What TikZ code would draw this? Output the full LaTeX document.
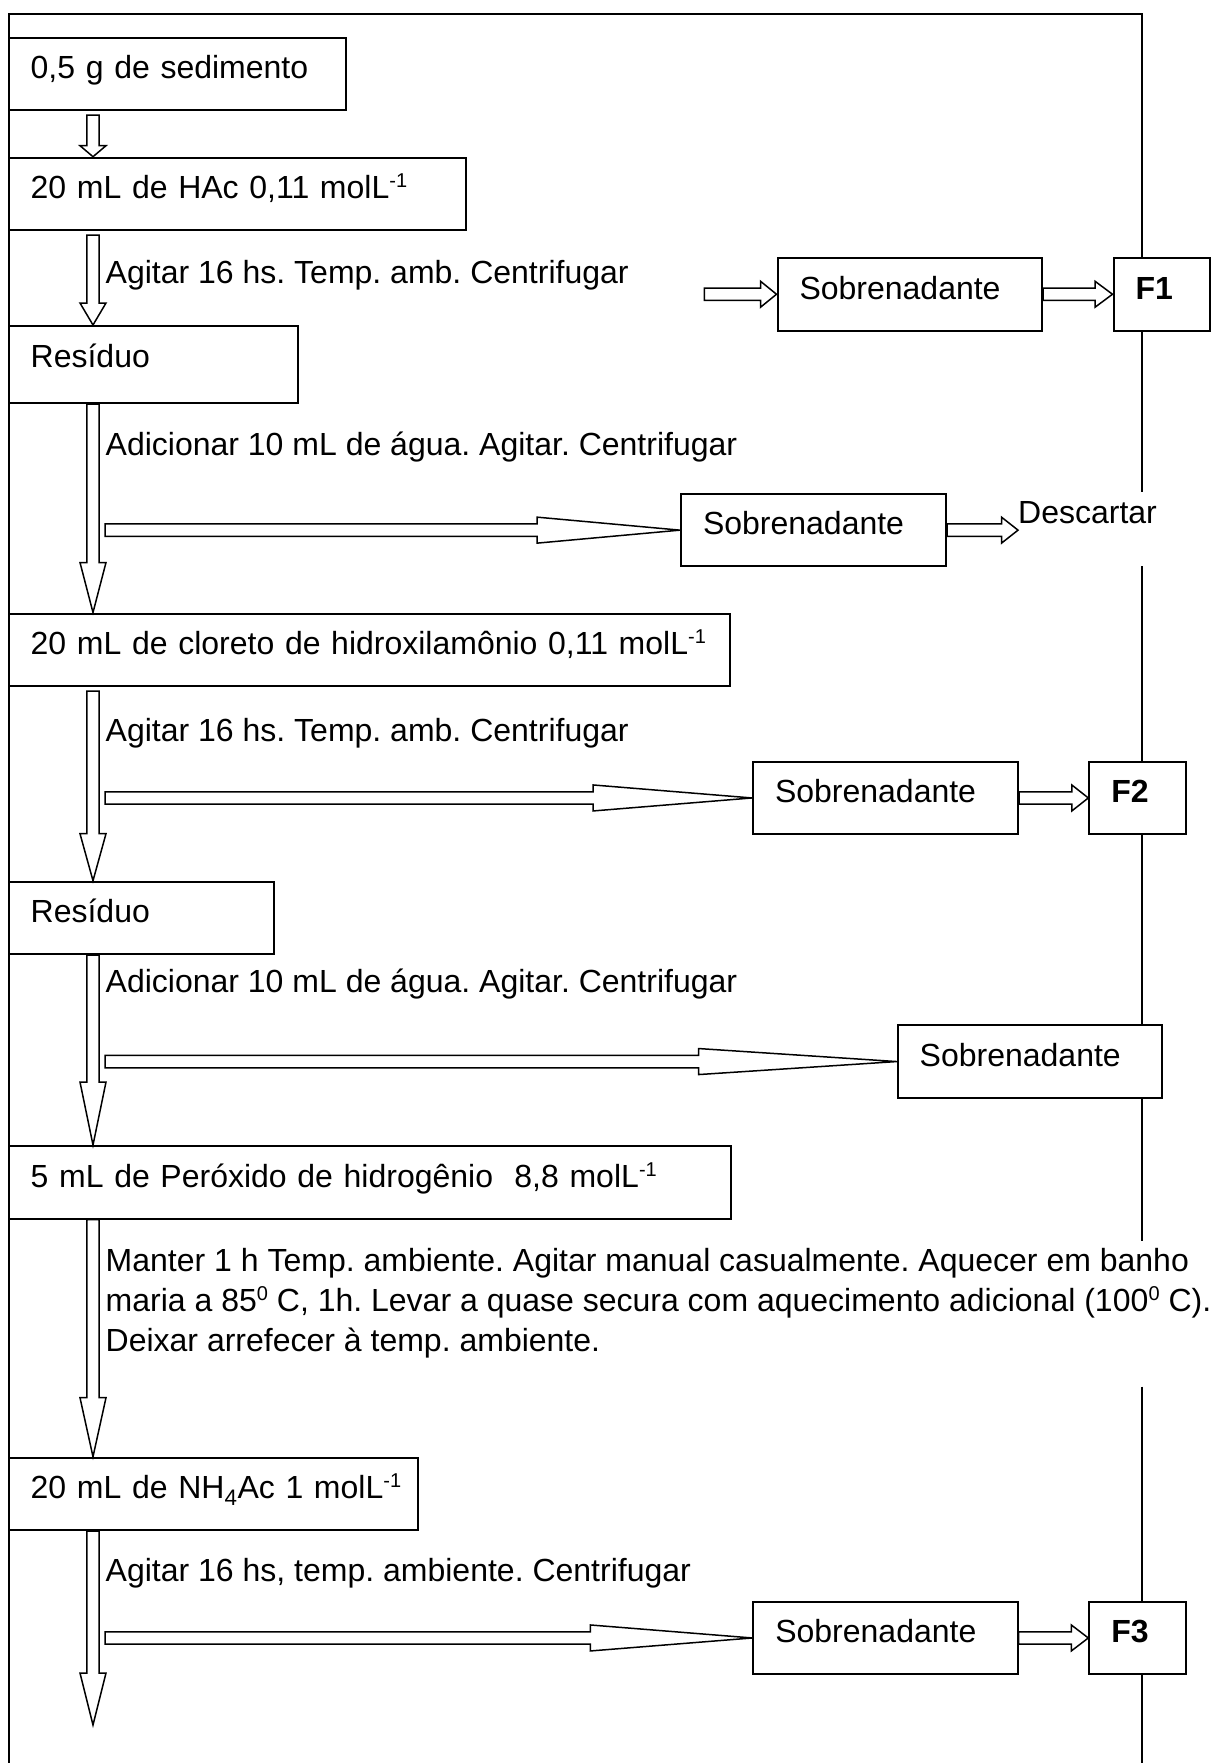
\documentclass[tikz,border=0pt]{standalone}
\usepackage{fontspec}
\setmainfont{Liberation Sans}
\usetikzlibrary{calc}
\newcommand\mysup[1]{\raisebox{11pt}{\fontsize{20}{20}\selectfont #1}}
\newcommand\vblockarrow[3]{\draw[blk] let \p1=#1, \p2=#2 in
  ({\x1-6.2pt},\y1) -- ({\x1-6.2pt},{\y2+#3pt}) -- ({\x1-13pt},{\y2+#3pt}) -- (\x1,\y2)
  -- ({\x1+13pt},{\y2+#3pt}) -- ({\x1+6.2pt},{\y2+#3pt}) -- ({\x1+6.2pt},\y1) -- cycle;}
\newcommand\hblockarrow[3]{\draw[blk] let \p1=#1, \p2=#2 in
  (\x1,{\y2+6.2pt}) -- ({\x2-#3pt},{\y2+6.2pt}) -- ({\x2-#3pt},{\y2+13pt}) -- (\x2,\y2)
  -- ({\x2-#3pt},{\y2-13pt}) -- ({\x2-#3pt},{\y2-6.2pt}) -- (\x1,{\y2-6.2pt}) -- cycle;}
\frenchspacing
\begin{document}
\begin{tikzpicture}[x=1pt,y=-1pt,
  every node/.style={font=\fontsize{32}{40}\selectfont\frenchspacing},
  bx/.style={draw, line width=2pt, fill=white, anchor=north west, inner xsep=22pt, inner ysep=0pt,
    align=left, text height=41pt, text depth=31.5pt},
  txt/.style={anchor=base west, inner sep=0pt},
  frame/.style={line width=2pt, line join=miter},
  blk/.style={draw, fill=white, line width=1.5pt, line join=miter}]
\useasboundingbox (0,0) rectangle (1211,1763);
\fill[white] (0,0) rectangle (1211,1763);
% outer frame
\draw[frame] (9,1763) -- (9,14) -- (1141.7,14) -- (1141.7,491.5);
\draw[frame] (1141.7,566) -- (1141.7,1240.7);
\draw[frame] (1141.7,1386.7) -- (1141.7,1763);
% helper coordinates
\coordinate (spine) at (93,0);
\coordinate (hstart) at (105,0);
\coordinate (h0s) at (704.4,293);
\coordinate (a7tip) at (93,1725);
% left column boxes
\node[bx, text width=293.3pt] (b1) at (7.7,36.7) {\mbox{0,5 g de sedimento}};
\node[bx, text width=413.3pt] (b2) at (7.7,156.7) {\mbox{20 mL de HAc 0,11 molL\mysup{-1}}};
\node[bx, text width=245.6pt, text depth=36pt] (r1) at (7.7,325) {\mbox{Resíduo}};
\node[bx, text width=677.3pt] (c1) at (7.7,612.5) {\mbox{20 mL de cloreto de hidroxilamônio 0,11 molL\mysup{-1}}};
\node[bx, text width=221.6pt] (r2) at (7.7,880.7) {\mbox{Resíduo}};
\node[bx, text width=678pt] (p1) at (7.7,1145) {\mbox{5 mL de Peróxido de hidrogênio\ \ 8,8 molL\mysup{-1}}};
\node[bx, text width=365.3pt] (n1) at (7.7,1456.7) {\mbox{20 mL de NH\textsubscript{4}Ac 1 molL\mysup{-1}}};
% right boxes
\node[bx, text width=220.5pt] (s1) at (776.5,257) {\mbox{Sobrenadante}};
\node[bx, text width=52.2pt] (f1) at (1112.5,257) {\textbf{F1}};
\node[bx, text width=221pt] (s2) at (680,492.9) {\mbox{Sobrenadante}};
\node[txt] (desc) at (1018,523) {Descartar};
\node[bx, text width=221pt] (s3) at (752,760.7) {\mbox{Sobrenadante}};
\node[bx, text width=53pt] (f2) at (1088.3,760.7) {\textbf{F2}};
\node[bx, text width=220.3pt] (s4) at (896.7,1024.3) {\mbox{Sobrenadante}};
\node[bx, text width=220.4pt] (s5) at (752.3,1600.7) {\mbox{Sobrenadante}};
\node[bx, text width=52.7pt] (f3) at (1088.3,1600.7) {\textbf{F3}};
% step texts
\node[txt] (t1) at (105.5,283.5) {Agitar 16 hs. Temp. amb. Centrifugar};
\node[txt] (t2) at (105.5,455) {Adicionar 10 mL de água. Agitar. Centrifugar};
\node[txt] (t3) at (105.5,741.7) {Agitar 16 hs. Temp. amb. Centrifugar};
\node[txt] (t4) at (105.5,992) {Adicionar 10 mL de água. Agitar. Centrifugar};
\node[txt] (m1) at (105.5,1271) {Manter 1 h Temp. ambiente. Agitar manual casualmente. Aquecer em banho};
\node[txt] (m2) at (105.5,1311) {maria a 85\mysup{0} C, 1h. Levar a quase secura com aquecimento adicional (100\mysup{0} C).};
\node[txt] (m3) at (105.5,1351) {Deixar arrefecer à temp. ambiente.};
\node[txt] (t5) at (105.5,1581.7) {Agitar 16 hs, temp. ambiente. Centrifugar};
% vertical block arrows
\vblockarrow{($(b1.south -| spine)+(0,4)$)}{(b2.north -| spine)}{11}
\vblockarrow{($(b2.south -| spine)+(0,4)$)}{(r1.north -| spine)}{22}
\vblockarrow{(r1.south -| spine)}{(c1.north -| spine)}{50}
\vblockarrow{($(c1.south -| spine)+(0,4)$)}{(r2.north -| spine)}{47}
\vblockarrow{(r2.south -| spine)}{(p1.north -| spine)}{63}
\vblockarrow{(p1.south -| spine)}{(n1.north -| spine)}{59}
\vblockarrow{(n1.south -| spine)}{(a7tip)}{52}
% horizontal block arrows
\hblockarrow{(h0s)}{(s1.west)}{16}
\hblockarrow{(s1.east)}{(f1.west)}{17.5}
\hblockarrow{(s2.west -| hstart)}{(s2.west)}{143}
\hblockarrow{(s2.east)}{(s2.east -| desc.west)}{16.5}
\hblockarrow{(s3.west -| hstart)}{(s3.west)}{159}
\hblockarrow{(s3.east)}{(f2.west)}{16.5}
\hblockarrow{(s4.west -| hstart)}{(s4.west)}{198}
\hblockarrow{(s5.west -| hstart)}{(s5.west)}{162}
\hblockarrow{(s5.east)}{(f3.west)}{17}
\end{tikzpicture}
\end{document}
